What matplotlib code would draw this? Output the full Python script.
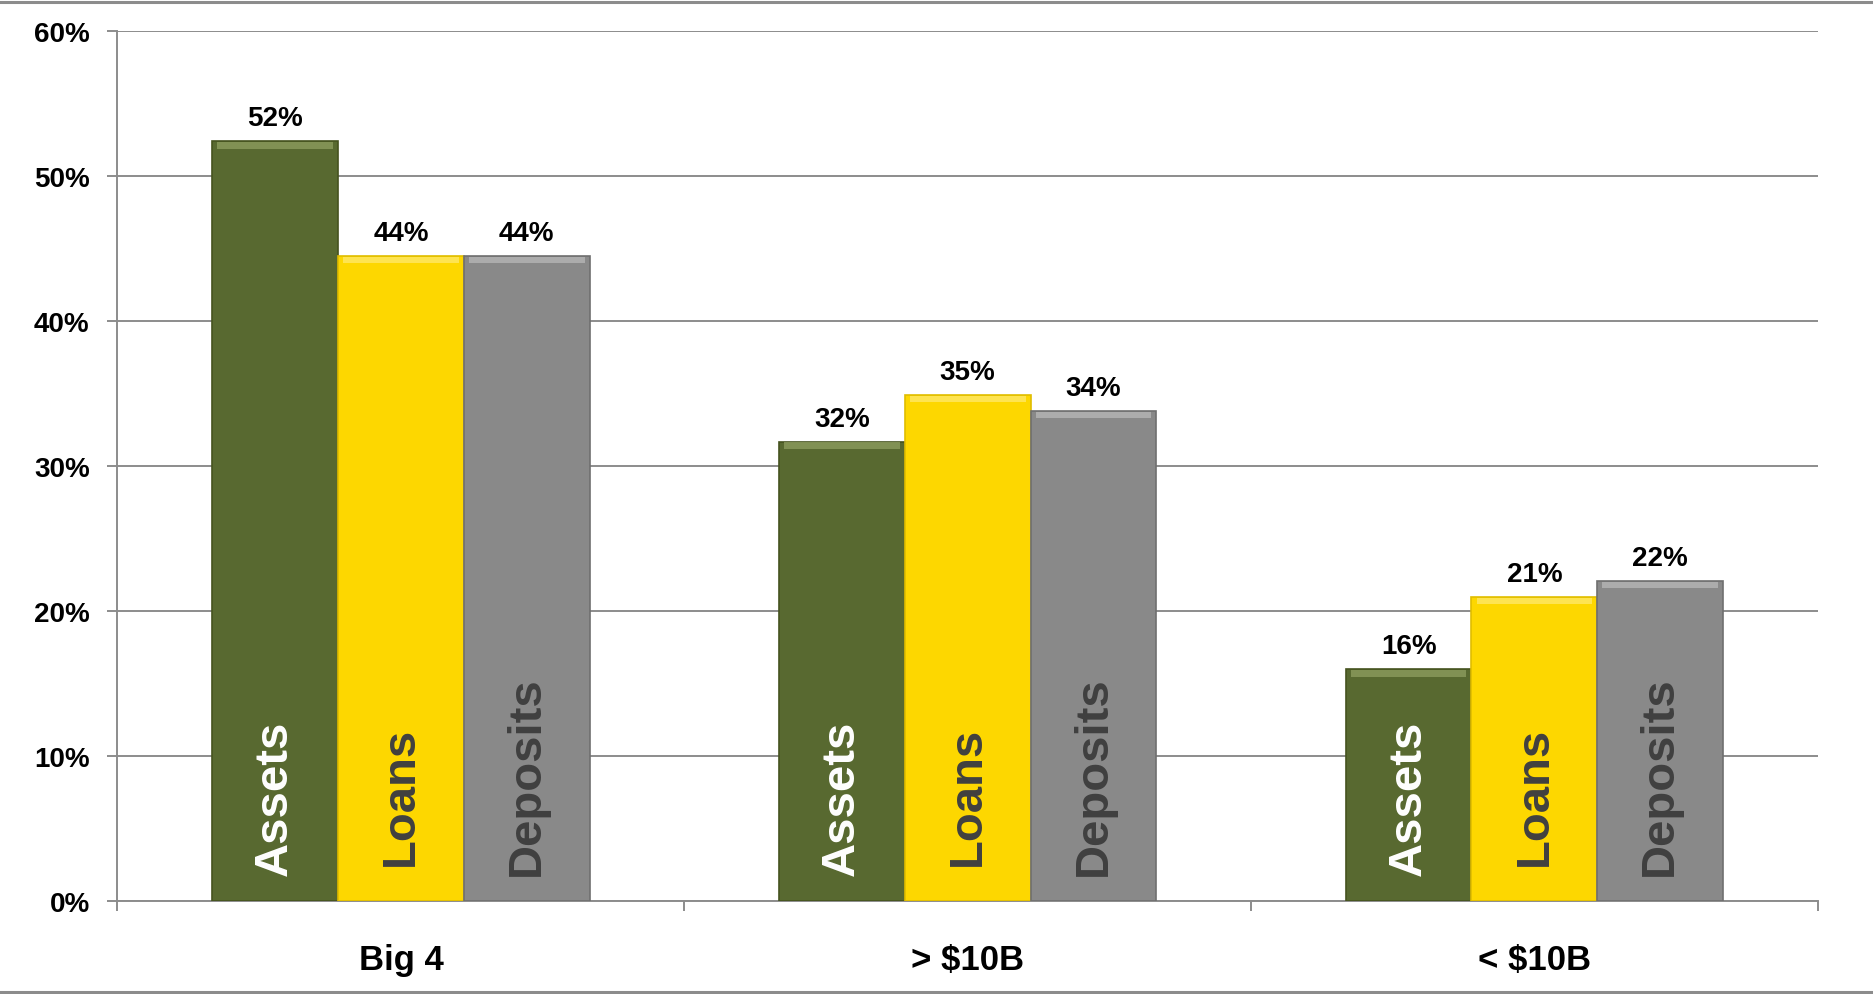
import matplotlib.pyplot as plt
import numpy as np
from matplotlib.lines import Line2D

categories = ["Big 4", "> $10B", "< $10B"]
series_names = ["Assets", "Loans", "Deposits"]
assets = [52.4, 31.7, 16.0]
loans = [44.5, 34.9, 21.0]
deposits = [44.5, 33.8, 22.1]
value_labels = [
    ["52%", "32%", "16%"],
    ["44%", "35%", "21%"],
    ["44%", "34%", "22%"],
]
y_ticks = [0, 10, 20, 30, 40, 50, 60]

FILL = ["#586930", "#fdd700", "#898989"]
EDGE = ["#45531f", "#e0bd00", "#6f6f6f"]
HIGHLIGHT = ["#8c9c5e", "#ffe866", "#b5b5b5"]
INNER_TEXT = ["white", "#404040", "#404040"]
INNER_BASE = [1.8, 2.5, 1.8]
FONT = ["Liberation Sans", "DejaVu Sans"]


def main():
    plt.rcParams["font.family"] = FONT
    plt.rcParams["font.weight"] = "bold"

    fig = plt.figure(figsize=(18.74, 9.95), dpi=100)
    fig.patch.set_facecolor("white")
    ax = fig.add_axes([0.0627, 0.0930, 0.9073, 0.8748])

    x = np.arange(len(categories))
    width = 0.222
    offsets = [-width, 0.0, width]

    ax.set_axisbelow(True)
    ax.yaxis.grid(True, color="#8c8c8c", linewidth=1.4)

    for i, values in enumerate([assets, loans, deposits]):
        pos = x + offsets[i]
        vals = np.array(values)
        ax.bar(pos, vals, width, color=FILL[i], edgecolor=EDGE[i],
               linewidth=1.2, zorder=3)
        # light bevel strip along the top edge
        ax.bar(pos, np.full_like(vals, 0.45), width * 0.92, bottom=vals - 0.5,
               color=HIGHLIGHT[i], linewidth=0, alpha=0.8, zorder=4)
        for px, v, lab in zip(pos, vals, value_labels[i]):
            ax.annotate(lab, (px, v), xytext=(0, 11.5), textcoords="offset points",
                        ha="center", va="baseline", fontsize=20,
                        fontweight="bold", color="black", zorder=5)
            ax.text(px, INNER_BASE[i], series_names[i], rotation=90,
                    ha="center", va="bottom", fontsize=34, fontweight="bold",
                    color=INNER_TEXT[i], zorder=5)

    ax.set_xlim(-0.5, len(categories) - 0.5)
    ax.set_ylim(0, 60)
    ax.set_yticks(y_ticks)
    ax.set_yticklabels([f"{t}%" for t in y_ticks])

    ax.set_xticks(np.arange(len(categories) + 1) - 0.5)
    ax.set_xticklabels([])
    ax.set_xticks(x, minor=True)
    ax.set_xticklabels(categories, minor=True)
    ax.tick_params(axis="x", which="minor", length=0, pad=30, labelsize=25)
    ax.tick_params(axis="x", which="major", length=7, width=1.4, color="#8c8c8c")
    ax.tick_params(axis="y", length=7, width=1.4, color="#8c8c8c", pad=13,
                   labelsize=20)

    for side in ("top", "right"):
        ax.spines[side].set_visible(False)
    for side in ("left", "bottom"):
        ax.spines[side].set_color("#8c8c8c")
        ax.spines[side].set_linewidth(1.4)

    # thin frame lines at the top and bottom of the picture
    for yf in (1 - 2.5 / 995, 2.5 / 995):
        fig.add_artist(Line2D([0, 1], [yf, yf], transform=fig.transFigure,
                              color="#8c8c8c", linewidth=2.2))

    fig.savefig("out.png", dpi=100)


if __name__ == "__main__":
    main()
